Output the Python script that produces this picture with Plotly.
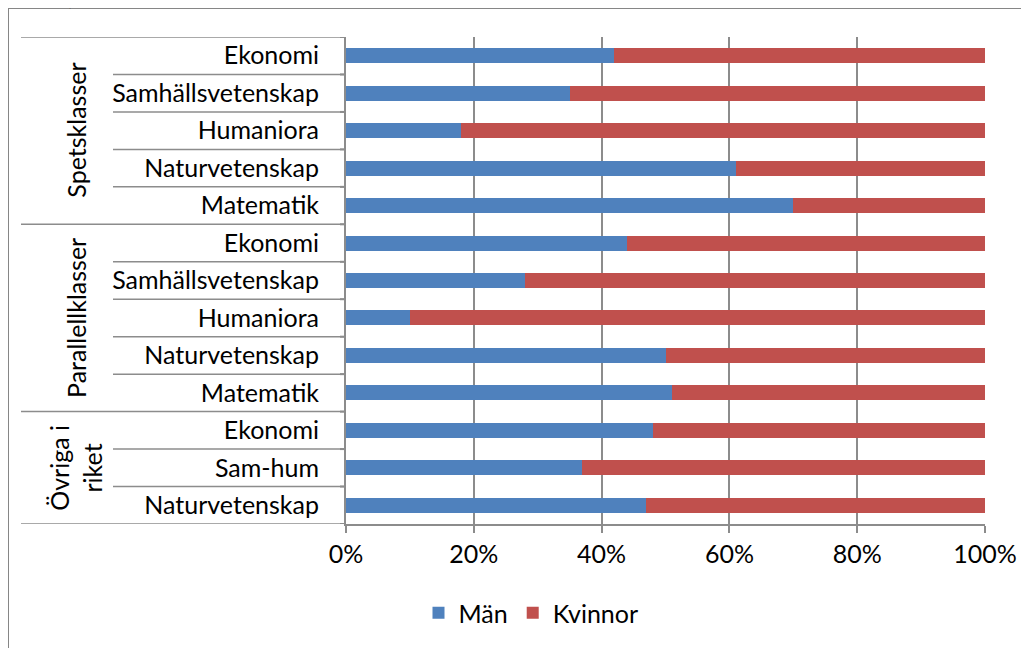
import plotly.graph_objects as go

# --- data (top to bottom) ---
groups = ["Spetsklasser", "Parallellklasser", "Övriga i<br>riket"]
group_sizes = [5, 5, 3]
categories = [
    "Ekonomi", "Samhällsvetenskap", "Humaniora", "Naturvetenskap", "Matematik",
    "Ekonomi", "Samhällsvetenskap", "Humaniora", "Naturvetenskap", "Matematik",
    "Ekonomi", "Sam-hum", "Naturvetenskap",
]
man = [42, 35, 18, 61, 70, 44, 28, 10, 50, 51, 48, 37, 47]
kvinnor = [100 - v for v in man]
x_ticks = [0, 20, 40, 60, 80, 100]
x_ticklabels = ["0%", "20%", "40%", "60%", "80%", "100%"]

FONT = "Lato, 'Open Sans', sans-serif"
FS = 25
GRAY = "#8c8c8c"
ypos = list(range(len(categories)))

fig = go.Figure()
fig.add_trace(go.Bar(y=ypos, x=man, orientation="h", name="Män",
                     marker=dict(color="#4F81BD", line=dict(width=0)), width=0.4))
fig.add_trace(go.Bar(y=ypos, x=kvinnor, orientation="h", name="Kvinnor",
                     marker=dict(color="#C0504D", line=dict(width=0)), width=0.4))

OFF = 8  # page body margin offset
W, H = 1029, 648
pw, ph = 639, 487
L, T = 346 - OFF, 37 - OFF
R = W - L - pw
B = H - T - ph

def px_to_xpaper(px):
    return (px - OFF - L) / pw

def py_to_ypaper(py):
    return 1 - (py - OFF - T) / ph

shapes = []
bounds = []
s = 0
for g in group_sizes:
    bounds.append(s - 0.5)
    s += g
bounds.append(s - 0.5)
for i in range(len(categories) + 1):
    yb = i - 0.5
    x0 = px_to_xpaper(21) if yb in bounds else px_to_xpaper(113)
    shapes.append(dict(type="line", xref="paper", yref="y", x0=x0, x1=0, y0=yb, y1=yb,
                       line=dict(color=GRAY, width=1.5)))
    shapes.append(dict(type="line", xref="paper", yref="y", x0=px_to_xpaper(340), x1=0,
                       y0=yb, y1=yb, line=dict(color=GRAY, width=2)))
# outer chart border (partially off-page)
shapes.append(dict(type="rect", xref="paper", yref="paper",
                   x0=px_to_xpaper(8), x1=px_to_xpaper(1100),
                   y0=py_to_ypaper(700), y1=py_to_ypaper(8),
                   line=dict(color="#868686", width=2), fillcolor="rgba(0,0,0,0)", layer="below"))

annotations = []
s = 0
for g, n in zip(groups, group_sizes):
    center = s + (n - 1) / 2
    annotations.append(dict(text=g, xref="paper", yref="y", x=px_to_xpaper(76), y=center,
                            textangle=-90, showarrow=False, font=dict(family=FONT, size=FS, color="black"),
                            xanchor="center", yanchor="middle"))
    s += n
annotations.append(dict(text="2014, 13.", xref="paper", yref="paper", x=px_to_xpaper(8),
                        y=py_to_ypaper(12), xanchor="left", yanchor="bottom", showarrow=False,
                        font=dict(family=FONT, size=FS, color="black")))

fig.update_layout(
    barmode="stack",
    width=W, height=H,
    margin=dict(l=L, r=R, t=T, b=B, pad=0),
    paper_bgcolor="white", plot_bgcolor="white",
    font=dict(family=FONT, size=FS, color="black"),
    showlegend=True,
    legend=dict(orientation="h", x=px_to_xpaper(531), y=py_to_ypaper(613),
                xanchor="center", yanchor="middle", font=dict(family=FONT, size=FS),
                itemwidth=30, traceorder="normal"),
    shapes=shapes,
    annotations=annotations,
    bargap=0.6,
)
fig.update_xaxes(range=[0, 100], tickvals=x_ticks, ticktext=x_ticklabels,
                 showgrid=True, gridcolor=GRAY, gridwidth=2,
                 showline=True, linecolor=GRAY, linewidth=2,
                 ticks="outside", ticklen=7, tickcolor=GRAY, tickwidth=2,
                 zeroline=False, tickfont=dict(family=FONT, size=FS), fixedrange=True)
fig.update_yaxes(range=[len(categories) - 0.5, -0.5], tickvals=ypos, ticktext=categories,
                 showgrid=False, showline=True, linecolor=GRAY, linewidth=2,
                 ticks="", ticklabelstandoff=20, zeroline=False,
                 tickfont=dict(family=FONT, size=FS), fixedrange=True)

fig.write_html("out.html")
